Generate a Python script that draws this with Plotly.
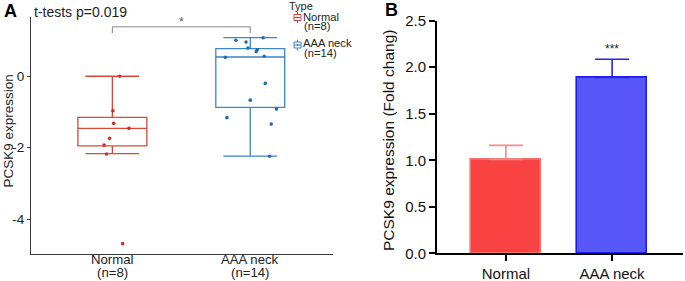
import plotly.graph_objects as go

# ---------------- data ----------------
# Panel A: box statistics
box_groups = ["Normal", "AAA neck"]
box_counts = ["(n=8)", "(n=14)"]
box_q1 = [-1.95, -0.87]
box_median = [-1.46, 0.54]
box_q3 = [-1.15, 0.775]
box_low = [-2.17, -2.24]
box_high = [0.0, 1.08]

# Panel A: individual points (value, jitter offset)
normal_vals = [0.0, -0.97, -1.32, -1.46, -1.74, -2.18, -4.69, -1.93]
normal_jit = [0.054, 0.004, 0.009, 0.12, -0.02, -0.042, 0.074, -0.06]
aaa_vals = [1.01, 0.96, 1.08, 0.79, 0.74, 0.69, 0.53, 0.56, -0.20, -0.67, -0.92, -1.16, -1.34, -2.24]
aaa_jit = [-0.104, -0.031, 0.094, -0.017, 0.051, 0.043, -0.181, 0.101, 0.109, 0.0, 0.19, -0.169, 0.152, 0.14]
pvalue_text = "t-tests p=0.019"
sig_a = "*"
ytitle_a = "PCSK9 expression"
legend_title = "Type"

# Panel B: bars
bar_groups = ["Normal", "AAA neck"]
bar_means = [1.01, 1.89]
bar_err = [0.15, 0.195]
sig_b = "***"
ytitle_b = "PCSK9 expression (Fold chang)"

FONT = "Liberation Sans, Arial, sans-serif"
W, H = 685, 281
RED = "#D9473B"
RED_PT = "#C9302A"
BLUE = "#3A86C6"
BLUE_PT = "#1C6DB3"


def px(x):
    return x / W


def py(y):
    return 1 - y / H


fig = go.Figure()

# ---- Panel A boxes ----
cols = [RED, BLUE]
for i in range(2):
    fig.add_trace(go.Box(
        x=[i], q1=[box_q1[i]], median=[box_median[i]], q3=[box_q3[i]],
        lowerfence=[box_low[i]], upperfence=[box_high[i]],
        width=0.5, whiskerwidth=0.78, boxpoints=False,
        line=dict(color=cols[i], width=1.3), fillcolor="rgba(255,255,255,0)",
        showlegend=False, xaxis="x", yaxis="y", hoverinfo="skip"))

fig.add_trace(go.Scatter(
    x=[0 + j for j in normal_jit], y=normal_vals, mode="markers",
    marker=dict(color=RED_PT, size=3.6), showlegend=False, xaxis="x", yaxis="y"))
fig.add_trace(go.Scatter(
    x=[1 + j for j in aaa_jit], y=aaa_vals, mode="markers",
    marker=dict(color=BLUE_PT, size=3.6), showlegend=False, xaxis="x", yaxis="y"))

# ---- Panel B bars ----
bar_fill = ["#F94343", "#5858F8"]
bar_line = ["#F77070", "#1C1CF2"]
err_col = ["#F48A8A", "#2424F0"]
for i in range(2):
    fig.add_trace(go.Bar(
        x=[i], y=[bar_means[i]], width=0.66,
        marker=dict(color=bar_fill[i], line=dict(color=bar_line[i], width=1.6)),
        error_y=dict(type="data", symmetric=False, array=[bar_err[i]], arrayminus=[0],
                     color=err_col[i], thickness=1.6, width=17),
        showlegend=False, xaxis="x2", yaxis="y2"))

# ---------------- layout ----------------
axA_col = "#3a3a3a"
fig.update_layout(
    width=W, height=H, margin=dict(l=0, r=0, t=0, b=0, autoexpand=False),
    paper_bgcolor="white", plot_bgcolor="white",
    font=dict(family=FONT, color="#222"),
    showlegend=False, bargap=0,
    xaxis=dict(domain=[px(31), px(333)], range=[-0.59, 1.6], anchor="y", automargin=False,
               showline=True, linecolor=axA_col, linewidth=1, ticks="",
               showticklabels=False, showgrid=False, zeroline=False),
    yaxis=dict(domain=[py(254), py(17)], range=[-4.98, 1.66], anchor="x", automargin=False,
               showline=True, linecolor=axA_col, linewidth=1,
               ticks="outside", ticklen=3, tickcolor=axA_col, tickwidth=1,
               tickvals=[0, -2, -4], ticktext=["0", "-2", "-4"],
               tickfont=dict(size=13.5, color="#222", family=FONT),
               showgrid=False, zeroline=False),
    xaxis2=dict(domain=[px(437), px(683)], range=[-0.649, 1.668], anchor="y2", automargin=False,
                showline=True, linecolor="black", linewidth=2,
                ticks="outside", ticklen=6, tickwidth=2, tickcolor="black",
                tickvals=[0, 1], ticktext=bar_groups,
                tickfont=dict(size=15, color="#111", family=FONT),
                showgrid=False, zeroline=False),
    yaxis2=dict(domain=[py(253.3), py(20.7)], range=[0, 2.5], anchor="x2", automargin=False,
                showline=True, linecolor="black", linewidth=2,
                ticks="outside", ticklen=6, tickwidth=2, tickcolor="black",
                tickvals=[0, 0.5, 1.0, 1.5, 2.0, 2.5], tickformat=".1f",
                tickfont=dict(size=15, color="#111", family=FONT),
                showgrid=False, zeroline=False),
)

ann = []
# Panel labels
ann.append(dict(text="<b>A</b>", x=px(2), y=py(11), xref="paper", yref="paper",
                xanchor="left", yanchor="middle", showarrow=False, font=dict(size=18, family=FONT, color="black")))
ann.append(dict(text="<b>B</b>", x=px(383), y=py(10), xref="paper", yref="paper",
                xanchor="left", yanchor="middle", showarrow=False, font=dict(size=18, family=FONT, color="black")))
# axis titles
ann.append(dict(text=ytitle_a, x=px(8), y=py(131.5), xref="paper", yref="paper", textangle=-90,
                xanchor="center", yanchor="middle", showarrow=False,
                font=dict(size=13.5, family=FONT, color="#222")))
ann.append(dict(text=ytitle_b, x=px(388), y=py(141), xref="paper", yref="paper", textangle=-90,
                xanchor="center", yanchor="middle", showarrow=False,
                font=dict(size=15.5, family=FONT, color="#111")))
# p-value title
ann.append(dict(text=pvalue_text, x=px(32), y=py(12), xref="paper", yref="paper",
                xanchor="left", yanchor="middle", showarrow=False, font=dict(size=14, family=FONT, color="#222")))
# significance star A
ann.append(dict(text=sig_a, x=0.5, y=1.52, xref="x", yref="y", xanchor="center", yanchor="middle",
                showarrow=False, font=dict(size=12, family=FONT, color="#555")))
# x tick labels A (two lines)
for i in range(2):
    ann.append(dict(text=box_groups[i], x=i, y=py(259.3), xref="x", yref="paper",
                    xanchor="center", yanchor="middle", showarrow=False,
                    font=dict(size=13.2, family=FONT, color="#222")))
    ann.append(dict(text=box_counts[i], x=i, y=py(272.7), xref="x", yref="paper",
                    xanchor="center", yanchor="middle", showarrow=False,
                    font=dict(size=13.2, family=FONT, color="#222")))
# significance B
ann.append(dict(text=sig_b, x=1, y=2.2, xref="x2", yref="y2", xanchor="center", yanchor="middle",
                showarrow=False, font=dict(size=12, family=FONT, color="#222")))

# Legend (manual)
ann.append(dict(text=legend_title, x=px(286.5), y=py(6), xref="paper", yref="paper",
                xanchor="left", yanchor="middle", showarrow=False, font=dict(size=11, family=FONT, color="#222")))
leg_y = [(16.7, 26), (43, 52.5)]
for i in range(2):
    ann.append(dict(text=box_groups[i], x=px(301), y=py(leg_y[i][0]), xref="paper", yref="paper",
                    xanchor="left", yanchor="middle", showarrow=False,
                    font=dict(size=11.2, family=FONT, color="#222")))
    ann.append(dict(text=box_counts[i], x=px(301.5), y=py(leg_y[i][1]), xref="paper", yref="paper",
                    xanchor="left", yanchor="middle", showarrow=False,
                    font=dict(size=11.2, family=FONT, color="#222")))
fig.update_layout(annotations=ann)

shapes = []
# bracket
shapes.append(dict(type="path", path="M 0,1.21 L 0,1.385 L 1,1.385 L 1,1.21",
                   xref="x", yref="y", line=dict(color="#888", width=1)))
# legend icons
icon_cy = [17.5, 45]
for i in range(2):
    cx, cy = 297.5, icon_cy[i]
    shapes.append(dict(type="line", x0=px(cx), x1=px(cx), y0=py(cy - 5.5), y1=py(cy + 5.5),
                       xref="paper", yref="paper", line=dict(color=cols[i], width=1)))
    shapes.append(dict(type="rect", x0=px(cx - 3.5), x1=px(cx + 3.5), y0=py(cy - 3), y1=py(cy + 3),
                       xref="paper", yref="paper", line=dict(color=cols[i], width=1), fillcolor="white"))
    shapes.append(dict(type="line", x0=px(cx - 3.5), x1=px(cx + 3.5), y0=py(cy), y1=py(cy),
                       xref="paper", yref="paper", line=dict(color=cols[i], width=1)))
    shapes.append(dict(type="circle", x0=px(cx - 1), x1=px(cx + 1), y0=py(cy - 1), y1=py(cy + 1),
                       xref="paper", yref="paper", line=dict(width=0), fillcolor=cols[i]))
fig.update_layout(shapes=shapes)

fig.write_html("out.html", config={"displayModeBar": False},
               post_script="document.body.style.margin='0';document.body.style.overflow='hidden';")
